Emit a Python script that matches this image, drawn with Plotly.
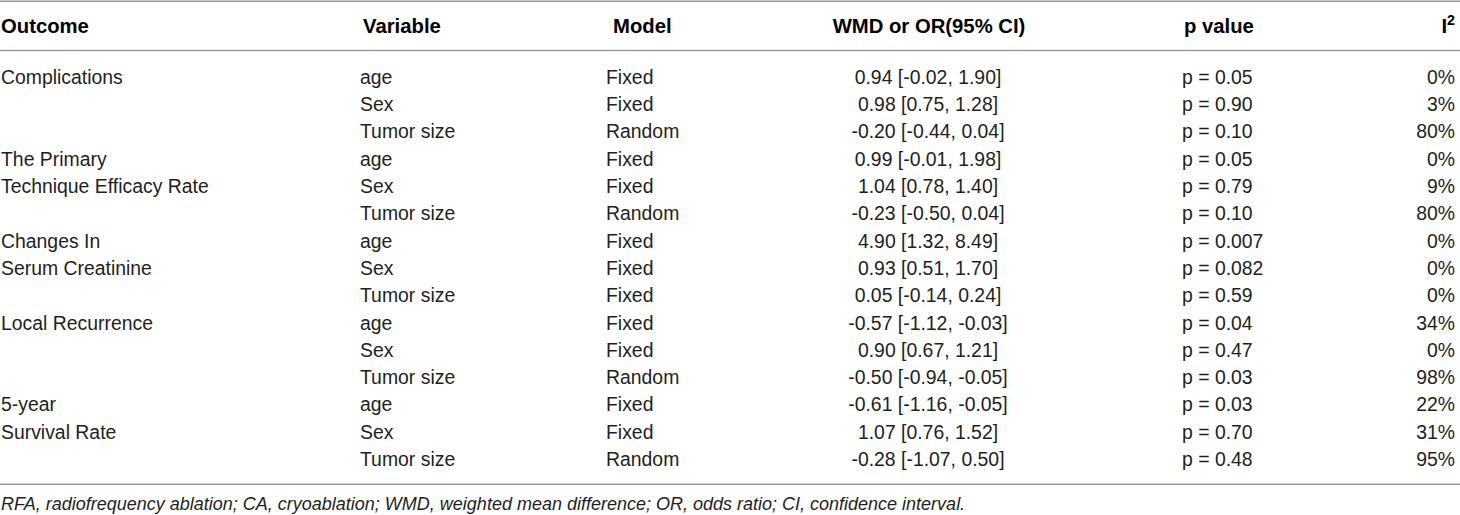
import plotly.graph_objects as go

headers = ["Outcome", "Variable", "Model", "WMD or OR(95% CI)", "p value", "I<sup>2</sup>"]
outcome = ["Complications", "", "", "The Primary", "Technique Efficacy Rate", "",
           "Changes In", "Serum Creatinine", "", "Local Recurrence", "", "",
           "5-year", "Survival Rate", ""]
variable = ["age", "Sex", "Tumor size"] * 5
model = ["Fixed", "Fixed", "Random",
         "Fixed", "Fixed", "Random",
         "Fixed", "Fixed", "Fixed",
         "Fixed", "Fixed", "Random",
         "Fixed", "Fixed", "Random"]
effect = ["0.94 [-0.02, 1.90]", "0.98 [0.75, 1.28]", "-0.20 [-0.44, 0.04]",
          "0.99 [-0.01, 1.98]", "1.04 [0.78, 1.40]", "-0.23 [-0.50, 0.04]",
          "4.90 [1.32, 8.49]", "0.93 [0.51, 1.70]", "0.05 [-0.14, 0.24]",
          "-0.57 [-1.12, -0.03]", "0.90 [0.67, 1.21]", "-0.50 [-0.94, -0.05]",
          "-0.61 [-1.16, -0.05]", "1.07 [0.76, 1.52]", "-0.28 [-1.07, 0.50]"]
pvalue = ["p = 0.05", "p = 0.90", "p = 0.10",
          "p = 0.05", "p = 0.79", "p = 0.10",
          "p = 0.007", "p = 0.082", "p = 0.59",
          "p = 0.04", "p = 0.47", "p = 0.03",
          "p = 0.03", "p = 0.70", "p = 0.48"]
i2 = ["0%", "3%", "80%", "0%", "9%", "80%", "0%", "0%", "0%",
      "34%", "0%", "98%", "22%", "31%", "95%"]
footnote = ("RFA, radiofrequency ablation; CA, cryoablation; WMD, weighted mean difference; "
            "OR, odds ratio; CI, confidence interval.")

W, H = 1460, 515
FONT = "Liberation Sans, Arial, sans-serif"
BODY = dict(family=FONT, size=19.4, color="#231f20")
HEAD = dict(family=FONT, size=20.3, color="#000000")

row0, step = 79.0, 27.3
rows = [row0 + step * i for i in range(len(variable))]
header_y = 28

# column anchors: (values, body x, body textposition, header x, header textposition)
cols = [
    (outcome, 1, "middle right", 1, "middle right"),
    (variable, 360, "middle right", 363, "middle right"),
    (model, 606, "middle right", 613, "middle right"),
    (effect, 928, "middle center", 929, "middle center"),
    (pvalue, 1182, "middle right", 1184, "middle right"),
    (i2, 1455, "middle left", 1455, "middle left"),
]

fig = go.Figure()
for (vals, xb, pos, xh, hpos), head in zip(cols, headers):
    keep = [i for i, v in enumerate(vals) if v]
    fig.add_trace(go.Scatter(
        x=[xb] * len(keep), y=[rows[i] for i in keep], mode="text",
        text=[vals[i] for i in keep],
        textposition=pos, textfont=BODY, hoverinfo="skip", showlegend=False))
    fig.add_trace(go.Scatter(
        x=[xh], y=[header_y], mode="text", text=[f"<b>{head}</b>"],
        textposition=hpos, textfont=HEAD, hoverinfo="skip", showlegend=False))

fig.add_trace(go.Scatter(
    x=[1], y=[505], mode="text", text=[f"<i>{footnote}</i>"],
    textposition="middle right",
    textfont=dict(family=FONT, size=18, color="#231f20"),
    hoverinfo="skip", showlegend=False))

line = dict(color="#9a9a9a", width=1.6)
for yy in (1.2, 50.5, 484.3):
    fig.add_shape(type="line", xref="x", yref="y", x0=0, x1=W, y0=yy, y1=yy, line=line)

fig.update_layout(
    width=W, height=H, margin=dict(l=0, r=0, t=0, b=0),
    paper_bgcolor="white", plot_bgcolor="white",
    xaxis=dict(range=[0, W], visible=False, fixedrange=True),
    yaxis=dict(range=[H, 0], visible=False, fixedrange=True),
)
fig.write_html(
    "out.html",
    config={"displayModeBar": False},
    post_script="document.body.style.margin='0';document.body.style.overflow='hidden';",
)
